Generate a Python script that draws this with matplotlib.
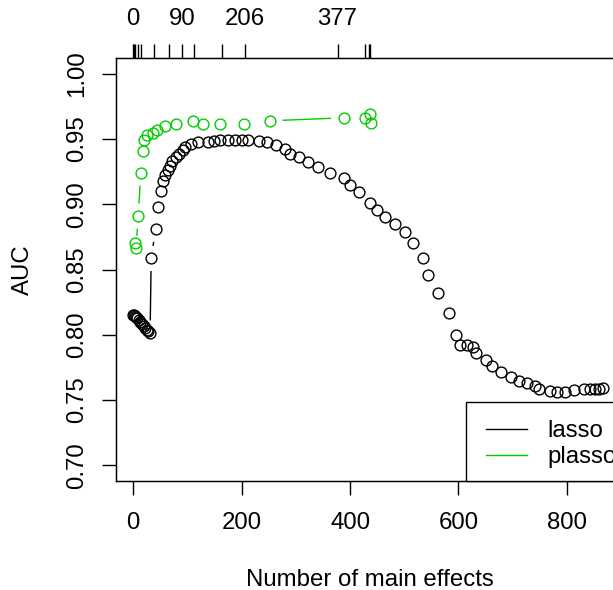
import numpy as np
import matplotlib
matplotlib.use('Agg')
import matplotlib.pyplot as plt
from matplotlib.patches import Rectangle
from matplotlib.lines import Line2D

# AUC against number of main effects
lasso_x = [0, 1, 3, 5, 7, 10, 12, 16, 20, 22, 25, 27, 31, 33, 41, 46, 52, 55, 59, 64,
           68, 72, 78, 84, 91, 96, 107, 120, 138, 148, 160, 175, 188, 200, 212, 232, 247, 263, 280, 289,
           306, 323, 341, 363, 388, 399, 416, 437, 449, 464, 483, 501, 516, 534, 544, 563, 583, 595, 603, 615,
           627, 632, 651, 661, 678, 696, 712, 726, 741, 749, 768, 781, 797, 814, 832, 843, 852, 860, 866]
lasso_auc = [0.815, 0.815, 0.8144, 0.8136, 0.8128, 0.8113, 0.8098, 0.8082, 0.8067, 0.8052,
             0.8036, 0.8029, 0.8013, 0.8585, 0.8808, 0.8976, 0.9101, 0.918, 0.9223, 0.9263,
             0.9296, 0.9331, 0.9358, 0.9384, 0.9415, 0.944, 0.9465, 0.9479, 0.9479, 0.9486,
             0.9492, 0.9492, 0.9492, 0.9492, 0.9492, 0.9486, 0.9479, 0.9453, 0.9423, 0.9382,
             0.9359, 0.9325, 0.9282, 0.9236, 0.9198, 0.9147, 0.9091, 0.9011, 0.8955, 0.8904,
             0.8848, 0.8789, 0.8703, 0.8585, 0.8458, 0.8317, 0.8164, 0.7998, 0.7921, 0.7921,
             0.7908, 0.7858, 0.7807, 0.7763, 0.7717, 0.7679, 0.7646, 0.7633, 0.7607, 0.7582,
             0.7569, 0.7564, 0.7564, 0.7577, 0.7584, 0.7584, 0.7584, 0.7584, 0.759]

plasso_x = [3, 5, 9, 14, 17, 19, 26, 37, 43, 59, 78, 111, 129, 160, 205, 252, 388, 428, 437, 438]
plasso_auc = [0.8700, 0.8662, 0.8909, 0.9239, 0.9410, 0.9492, 0.9530, 0.9548, 0.9568, 0.9599,
              0.9614, 0.9637, 0.9614, 0.9614, 0.9616, 0.9639, 0.9662, 0.9662, 0.9691, 0.9619]

top_ticks = [0, 2, 4, 9, 15, 38, 66, 90, 112, 164, 206, 377, 427, 435, 437]
top_shown = [0, 90, 206, 377]

bottom_ticks = [0, 200, 400, 600, 800]
y_ticks = [0.70, 0.75, 0.80, 0.85, 0.90, 0.95, 1.00]

plt.rcParams['font.family'] = ['Liberation Sans', 'DejaVu Sans']
FS = 17.3
GREEN = '#00CD00'

W, H = 613, 590
fig = plt.figure(figsize=(W / 100, H / 100), dpi=100)

# plot region in pixels (it runs past the right edge, as in the reference)
left_px, right_px, top_px, bot_px = 115.7, 650.0, 58.0, 481.0
x0_px, sx = 133.3, 0.542
ax = fig.add_axes([left_px / W, 1 - bot_px / H, (right_px - left_px) / W, (bot_px - top_px) / H])
ax.set_xlim((left_px - x0_px) / sx, (right_px - x0_px) / sx)
ax.set_ylim(0.7 - 0.012, 1.0 + 0.012)

for s in ax.spines.values():
    s.set_linewidth(1.0)

ax.set_xticks(bottom_ticks)
ax.set_yticks(y_ticks)
ax.set_yticklabels(['%.2f' % v for v in y_ticks])
ax.tick_params(direction='out', length=10, width=1.0, labelsize=FS, pad=12)
ax.tick_params(axis='y', labelrotation=90, pad=10)
for lab in ax.get_yticklabels():
    lab.set_va('center')


def plot_b(x, y, color):
    # R type="b": open circles joined by lines that stop short of the points
    ax.plot(x, y, ls='none', marker='o', ms=7.8, mfc='none', mec=color, mew=1.0)
    pts = ax.transData.transform(np.column_stack([x, y]))
    inv = ax.transData.inverted()
    gap = 13.3
    for p, q in zip(pts[:-1], pts[1:]):
        d = q - p
        L = np.hypot(d[0], d[1])
        if L <= 2 * gap:
            continue
        u = d / L
        seg = inv.transform([p + u * gap, q - u * gap])
        ax.plot(seg[:, 0], seg[:, 1], color=color, lw=1.0)


plot_b(lasso_x, lasso_auc, 'black')
plot_b(plasso_x, plasso_auc, GREEN)

# top axis with the rug of ticks
ax2 = ax.twiny()
ax2.set_xlim(ax.get_xlim())
ax2.set_xticks(top_ticks)
ax2.set_xticklabels([str(t) if t in top_shown else '' for t in top_ticks])
ax2.tick_params(direction='out', length=10, width=1.0, labelsize=FS, pad=10)

fig.text(23 / W, 1 - (top_px + bot_px) / 2 / H, 'AUC', rotation=90, va='center', ha='center', fontsize=FS)
fig.text(370 / W, 1 - 580 / H, 'Number of main effects', va='center', ha='center', fontsize=FS)

# legend box, bottom right
fig.add_artist(Rectangle((466 / W, 1 - bot_px / H), (right_px - 466) / W, (bot_px - 401.7) / H,
                         transform=fig.transFigure, facecolor='white', edgecolor='black', lw=1.0, zorder=5))
for yy, col, name in [(429.3, 'black', 'lasso'), (455.3, GREEN, 'plasso')]:
    fig.add_artist(Line2D([485.7 / W, 527.3 / W], [1 - yy / H, 1 - yy / H], color=col, lw=1.0, zorder=6))
    fig.text(547.3 / W, 1 - (yy + 7.5) / H, name, va='baseline', ha='left', fontsize=FS, zorder=6)

fig.savefig('out.png', dpi=100)
